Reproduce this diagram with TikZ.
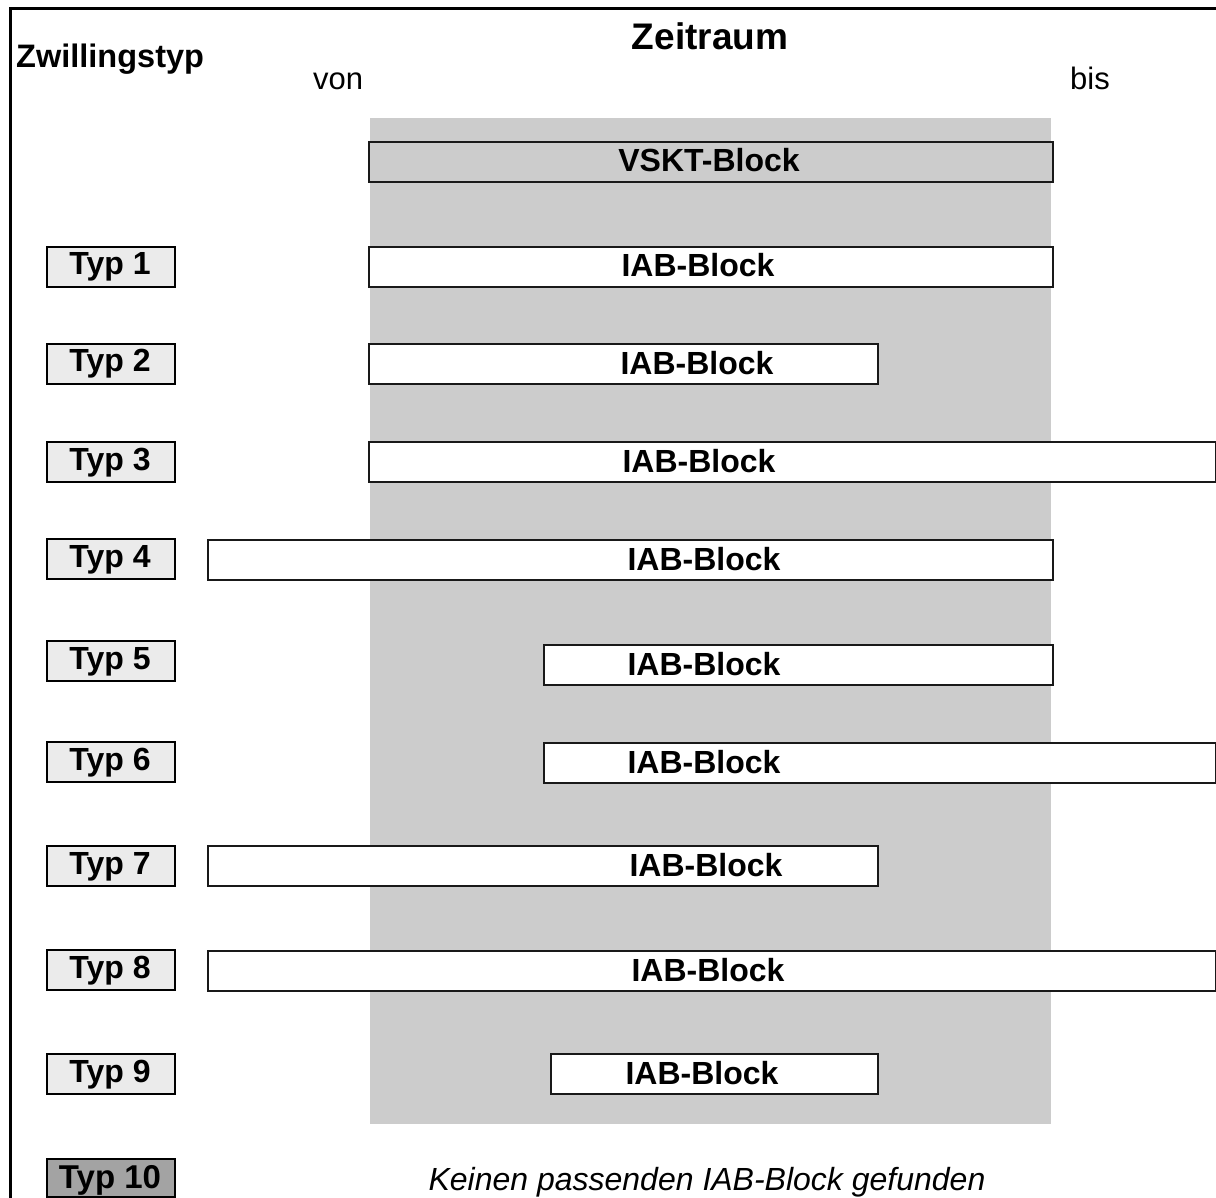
\documentclass[tikz,border=0pt]{standalone}
\usepackage{fontspec}
\setmainfont{Liberation Sans}
\definecolor{band}{HTML}{CCCCCC}
\definecolor{typfill}{HTML}{EBEBEB}
\definecolor{typdark}{HTML}{A3A3A3}
\begin{document}
\begin{tikzpicture}[x=1pt,y=-1pt,
  typbox/.style={draw=black,line width=2pt,fill=typfill,minimum width=128pt,minimum height=40pt,inner sep=0pt,anchor=north west},
  typdarkbox/.style={typbox,fill=typdark,minimum height=38pt},
  blockbox/.style={draw=black!90,line width=2.2pt,fill=white,minimum height=40pt,inner sep=0pt,anchor=north west},
  lbl/.style={anchor=base,inner sep=0pt,font=\bfseries\fontsize{32}{38}\selectfont},
  blbl/.style={anchor=base,inner sep=0pt,font=\bfseries\fontsize{32}{38}\selectfont},
  plain/.style={anchor=base,inner sep=0pt,font=\fontsize{31}{37}\selectfont}]
\useasboundingbox (0,0) rectangle (1216,1198);
\fill[white] (0,0) rectangle (1216,1198);
% frame (top and left)
\draw[line width=3.5pt] (10.5,1198) -- (10.5,8.5) -- (1216,8.5);
% gray time band
\fill[band] (370,118) rectangle (1051,1124);
% headers
\node[plain,anchor=base west,font=\bfseries\fontsize{32.5}{38}\selectfont] (zw) at (16,68) {Zwillingstyp};
\node[plain,font=\bfseries\fontsize{37}{44}\selectfont] (zeit) at (710,50) {Zeitraum};
\node[plain,anchor=base west] (von) at (313,90) {von};
\node[plain,anchor=base west] (bis) at (1070,90) {bis};
% VSKT block
\node[blockbox,fill=band,minimum width=684pt] (vskt) at (368,141) {};
\node[blbl] (vsktt) at (709,172) {VSKT-Block};
% Typ boxes
\foreach \n/\t in {1/246,2/343,3/441,4/538,5/640,6/741,7/845,8/949,9/1053}{
  \node[typbox] (typ\n) at (46,\t) {};
  \node[lbl] (typ\n t) at (110,\t+29) {Typ \n};
}
\node[typdarkbox] (typ10) at (46,1158) {};
\node[lbl,font=\bfseries\fontsize{33}{39}\selectfont] (typ10t) at (110,1188) {Typ 10};
% IAB blocks: index/top/left/right/text x
\foreach \n/\t/\l/\r/\x in {1/246/368/1052/698,2/343/368/877/697,3/441/368/1215/699,
  4/539/207/1052/704,5/644/543/1052/704,6/742/543/1215/704,7/845/207/877/706,
  8/950/207/1215/708,9/1053/550/877/702}{
  \pgfmathsetmacro{\w}{\r-\l}
  \node[blockbox,minimum width=\w pt] (iab\n) at (\l,\t) {};
  \node[blbl] (iab\n t) at (\x,\t+31) {IAB-Block};
}
% bottom note
\node[plain,font=\itshape\fontsize{32}{38}\selectfont] (none) at (707,1190) {Keinen passenden IAB-Block gefunden};
\end{tikzpicture}
\end{document}
